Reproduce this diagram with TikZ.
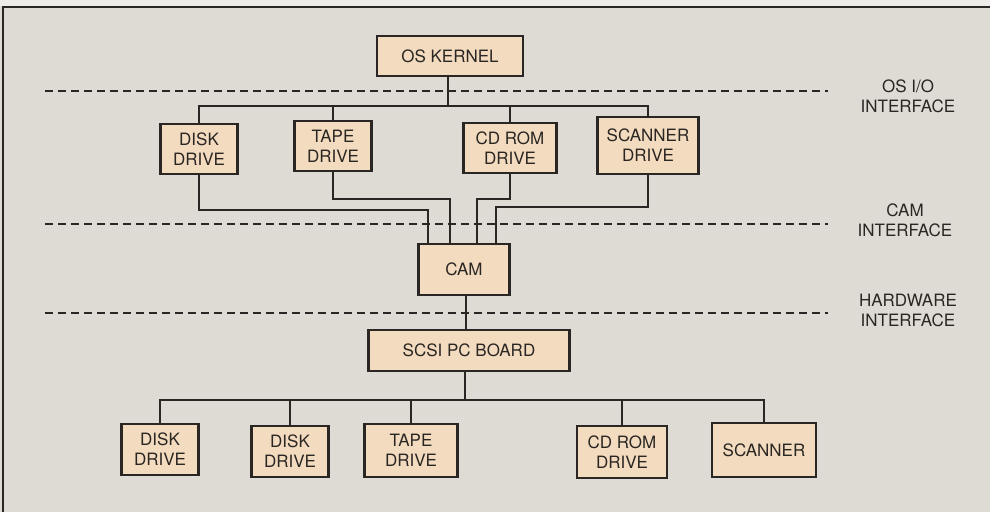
\documentclass[tikz,border=0pt]{standalone}
\usepackage{fontspec}
\setmainfont{TeX Gyre Heros}
\usepackage{xcolor}
\usetikzlibrary{positioning, calc}
\definecolor{paper}{HTML}{DEDBD5}
\definecolor{papertop}{HTML}{EEECE8}
\definecolor{boxfill}{HTML}{F3DBBF}
\definecolor{ink}{HTML}{2A2623}

\begin{document}
\begin{tikzpicture}[
    x=1pt, y=-1pt,
    unit/.style={rectangle, draw=ink, fill=boxfill, text=ink, line width=2.4pt,
                 align=center, inner sep=0pt, font=\fontsize{17}{20}\selectfont},
    wire/.style={ink, line width=1.7pt},
    layer/.style={ink, line width=1.8pt, dash pattern=on 8pt off 5pt},
    tag/.style={text=ink, align=center, font=\fontsize{17}{20}\selectfont}
  ]
    \useasboundingbox (0,0) rectangle (990,512);
    \fill[paper] (0,0) rectangle (990,512);
    \fill[papertop] (0,0) rectangle (990,6);
    \draw[ink, line width=1.6pt] (3,512) -- (3,7) -- (990,7);

    % interface layers
    \draw[layer] (45,91) -- (828,91);
    \draw[layer] (45,224) -- (828,224);
    \draw[layer] (45,313) -- (828,313);
    \node[tag] (osio) at (908,96) {OS I/O\\INTERFACE};
    \node[tag] (camif) at (905,220) {CAM\\INTERFACE};
    \node[tag] (hwif) at (908,310) {HARDWARE\\INTERFACE};

    % software side
    \node[unit, minimum width=146pt, minimum height=40pt] (kernel) at (450,56) {OS KERNEL};
    \node[unit, minimum width=77pt, minimum height=50pt] (disk) at (199,149) {DISK\\DRIVE};
    \node[unit, minimum width=77pt, minimum height=50pt] (tape) at (333,146) {TAPE\\DRIVE};
    \node[unit, minimum width=93pt, minimum height=50pt] (cdrom) at (510,148) {CD ROM\\DRIVE};
    \node[unit, minimum width=101pt, minimum height=57pt] (scanner) at (648,145.5) {SCANNER\\DRIVE};
    \node[unit, minimum width=91pt, minimum height=51pt] (cam) at (464,269.5) {CAM};
    \node[unit, minimum width=201pt, minimum height=41pt] (scsi) at (469,350.5) {SCSI PC BOARD};

    % devices
    \node[unit, minimum width=77pt, minimum height=51pt] (hdiskA) at (160,449.5) {DISK\\DRIVE};
    \node[unit, minimum width=77pt, minimum height=51pt] (hdiskB) at (290,451.5) {DISK\\DRIVE};
    \node[unit, minimum width=93pt, minimum height=53pt] (htape) at (411,450.5) {TAPE\\DRIVE};
    \node[unit, minimum width=90pt, minimum height=52pt] (hcdrom) at (622,452) {CD ROM\\DRIVE};
    \node[unit, minimum width=104pt, minimum height=54pt] (hscanner) at (764,450) {SCANNER};

    \coordinate (busA) at (0,106);
    \coordinate (busB) at (0,400);

    % kernel to drivers
    \draw[wire] ([xshift=-2pt]kernel.south) |- (busA -| disk.north) -- (disk.north);
    \draw[wire] ([xshift=-2pt]kernel.south) |- (busA -| tape.north) -- (tape.north);
    \draw[wire] ([xshift=-2pt]kernel.south) |- (busA -| cdrom.north) -- (cdrom.north);
    \draw[wire] ([xshift=-2pt]kernel.south) |- (busA -| scanner.north) -- (scanner.north);

    % drivers to CAM
    \draw[wire] (disk.south) -- ++(0,35) -| ([xshift=-36pt]cam.north);
    \draw[wire] (tape.south) -- ++(0,27) -| ([xshift=-14pt]cam.north);
    \draw[wire] (cdrom.south) -- ++(0,25) -| ([xshift=13pt]cam.north);
    \draw[wire] (scanner.south) -- ++(0,32) -| ([xshift=32pt]cam.north);

    \draw[wire] ([xshift=2pt]cam.south) -- ([xshift=2pt]cam.south |- scsi.north);

    % board to devices
    \draw[wire] ([xshift=-4pt]scsi.south) |- (busB -| hdiskA.north) -- (hdiskA.north);
    \draw[wire] ([xshift=-4pt]scsi.south) |- (busB -| hdiskB.north) -- (hdiskB.north);
    \draw[wire] ([xshift=-4pt]scsi.south) |- (busB -| htape.north) -- (htape.north);
    \draw[wire] ([xshift=-4pt]scsi.south) |- (busB -| hcdrom.north) -- (hcdrom.north);
    \draw[wire] ([xshift=-4pt]scsi.south) |- (busB -| hscanner.north) -- (hscanner.north);
  \end{tikzpicture}
\end{document}
